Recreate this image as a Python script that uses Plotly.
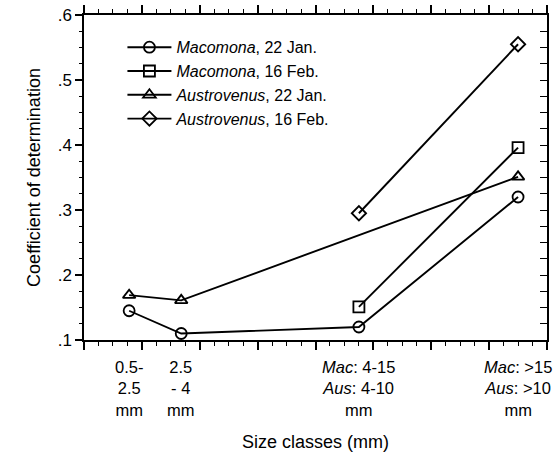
import plotly.graph_objects as go

# ---- data ----
class_pos = [0.78, 1.68, 4.75, 7.5]
class_labels = [
    "0.5-<br>2.5<br>mm",
    "2.5<br>- 4<br>mm",
    "<i>Mac</i>: 4-15<br><i>Aus</i>: 4-10<br>mm",
    "<i>Mac</i>: >15<br><i>Aus</i>: >10<br>mm",
]
mac_jan = [0.145, 0.110, 0.120, 0.320]
mac_feb = [None, None, 0.151, 0.396]
aus_jan = [0.169, 0.161, None, 0.351]
aus_feb = [None, None, 0.295, 0.555]

series = [
    ("<i>Macomona</i>, 22 Jan.", mac_jan, "circle-open"),
    ("<i>Macomona</i>, 16 Feb.", mac_feb, "square-open"),
    ("<i>Austrovenus</i>, 22 Jan.", aus_jan, "triangle-up-open"),
    ("<i>Austrovenus</i>, 16 Feb.", aus_feb, "diamond-open"),
]

FONT = "Liberation Sans, Arial, Helvetica, sans-serif"
XR = [0, 8]
YR = [0.1, 0.6]

fig = go.Figure()
for name, vals, sym in series:
    fig.add_trace(go.Scatter(
        x=class_pos, y=vals, name=name, mode="lines+markers",
        connectgaps=True,
        line=dict(color="black", width=1.9),
        marker=dict(symbol=sym, size=11, color="black",
                    line=dict(color="black", width=1.8)),
    ))

# empty trace that carries the right-hand axis (ticks pointing inward)
fig.add_trace(go.Scatter(x=[None], y=[None], xaxis="x", yaxis="y2",
                         showlegend=False, hoverinfo="skip"))

for xv, lab in zip(class_pos, class_labels):
    fig.add_annotation(x=xv, xref="x", y=-0.05, yref="paper",
                       text=lab, showarrow=False, xanchor="center",
                       yanchor="top", align="center",
                       font=dict(family=FONT, size=16.5, color="black"))

fig.update_layout(
    width=557, height=454,
    margin=dict(l=84, r=10, t=15, b=114, autoexpand=False),
    paper_bgcolor="white", plot_bgcolor="white",
    font=dict(family=FONT, size=16, color="black"),
    showlegend=True,
    legend=dict(x=0.083, y=0.953, xanchor="left", yanchor="top",
                bgcolor="rgba(0,0,0,0)", borderwidth=0,
                itemwidth=44, font=dict(family=FONT, size=16)),
    xaxis=dict(
        range=XR, tick0=0, dtick=1, showgrid=False, zeroline=False,
        automargin=False,
        showticklabels=False, showline=True, linecolor="black", linewidth=1.5,
        ticks="outside", ticklen=8, tickwidth=1.5, tickcolor="black",
        mirror="ticks",
        minor=dict(tick0=0, dtick=0.25, ticks="outside", ticklen=4,
                   tickwidth=1.4, tickcolor="black", showgrid=False),
        title=dict(text="Size classes (mm)", standoff=87,
                   font=dict(size=18)),
    ),
    yaxis=dict(
        range=YR, tick0=0.1, dtick=0.1, tickformat=".1f",
        showgrid=False, zeroline=False, automargin=False,
        showline=True, linecolor="black", linewidth=1.5,
        ticks="outside", ticklen=7, tickwidth=1.5, tickcolor="black",
        mirror=True,
        minor=dict(tick0=0.1, dtick=0.025, ticks="outside", ticklen=3,
                   tickwidth=1.4, tickcolor="black", showgrid=False),
        title=dict(text="Coefficient of determination", standoff=12,
                   font=dict(size=18)),
        tickfont=dict(size=17),
        labelalias={"0.1": ".1", "0.2": ".2", "0.3": ".3",
                    "0.4": ".4", "0.5": ".5", "0.6": ".6"},
    ),
    yaxis2=dict(
        overlaying="y", side="right", anchor="x", range=YR,
        tick0=0.1, dtick=0.025, showticklabels=False, automargin=False,
        showgrid=False, zeroline=False,
        showline=True, linecolor="black", linewidth=1.5,
        ticks="inside", ticklen=7, tickwidth=1.4, tickcolor="black",
    ),
)

fig.write_html("out.html")
